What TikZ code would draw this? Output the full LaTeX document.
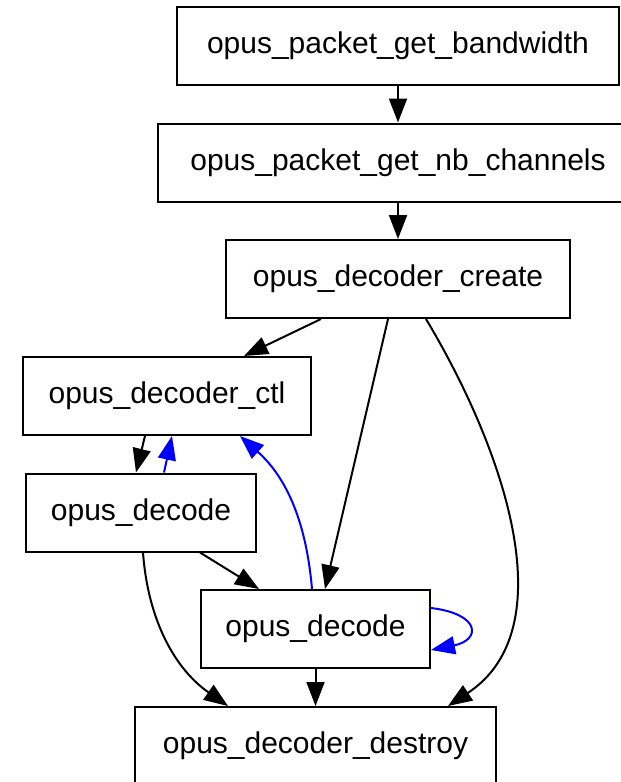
\documentclass[tikz,border=0pt]{standalone}
\usepackage{fontspec}
\setmainfont{Liberation Sans}
\usetikzlibrary{arrows.meta,calc}

\tikzset{
  fn/.style={draw, line width=1pt, minimum height=39pt, inner sep=0pt,
    font=\fontsize{15}{18}\selectfont},
  call/.style={line width=1pt, -{Triangle[length=12pt,width=9pt]}},
  back/.style={call, blue}
}

\begin{document}
\begin{tikzpicture}[x=0.5pt,y=-0.5pt]
\useasboundingbox (0,0) rectangle (621,782);
\begin{scope}
\clip (0,0) rectangle (621,782);
\node[fn, minimum width=221pt] (bandwidth) at (398,46) {opus\_packet\_get\_bandwidth};
\node[fn, minimum width=240pt] (nbchannels) at (398,162.5) {opus\_packet\_get\_nb\_channels};
\node[fn, minimum width=172pt] (create) at (398,279) {opus\_decoder\_create};
\node[fn, minimum width=144pt] (ctl) at (167,396) {opus\_decoder\_ctl};
\node[fn, minimum width=115pt] (decodeA) at (141,512.5) {opus\_decode};
\node[fn, minimum width=114.5pt] (decodeB) at (315.5,629) {opus\_decode};
\node[fn, minimum width=180.5pt] (destroy) at (315.5,746) {opus\_decoder\_destroy};
\end{scope}
%top chain
\draw[call] (bandwidth.south) -- (nbchannels.north);
\draw[call] (nbchannels.south) -- (create.north);
%create
\draw[call] ($(create.south)+(-77,0)$) -- ($(ctl.north)+(77,0)$);
\draw[call] ($(create.south)+(-10,0)$) -- ($(decodeB.north)+(9.5,0)$);
\draw[call] ($(create.south)+(28,0)$) .. controls +(79,132) and +(117,-77) .. ($(destroy.north)+(132.5,0)$);
%ctl <-> decode
\draw[call] ($(ctl.south)+(-22,0)$) -- ($(decodeA.north)+(-5,0)$);
\draw[back] ($(decodeA.north)+(23,0)$) -- ($(ctl.south)+(5,0)$);
\draw[back] ($(decodeB.north)+(-3.5,0)$) .. controls +(-6,-70) and +(45,40) .. ($(ctl.south)+(73,0)$);
%decode
\draw[call] ($(decodeA.south)+(59,0)$) -- ($(decodeB.north)+(-56.5,0)$);
\draw[call] ($(decodeA.south)+(2,0)$) .. controls +(5,68) and +(-53,-37) .. ($(destroy.north)+(-87.5,0)$);
\draw[back] ($(decodeB.east)+(0,-21)$) .. controls +(50,6) and +(50,-10) .. ($(decodeB.east)+(0,21)$);
\draw[call] (decodeB.south) -- (destroy.north);
\end{tikzpicture}
\end{document}
